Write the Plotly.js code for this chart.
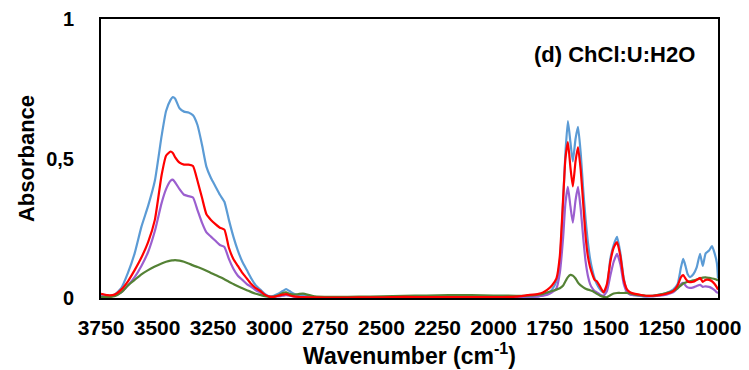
<!DOCTYPE html>
<html>
<head>
<meta charset="utf-8">
<script src="https://cdn.plot.ly/plotly-3.0.1.min.js"></script>
<style>html,body{margin:0;padding:0;background:#fff;}#chart{width:749px;height:370px;}</style>
</head>
<body>
<div id="chart"></div>
<script>
const wavenumber = [3750,3720,3690,3660,3630,3600,3570,3540,3510,3480,3460,3440,3430,3420,3400,3380,3360,3340,3320,3300,3280,3260,3240,3220,3200,3180,3160,3140,3120,3100,3080,3060,3040,3020,3000,2980,2960,2940,2925,2910,2890,2870,2850,2800,2700,2600,2500,2400,2300,2200,2100,2000,1900,1850,1800,1780,1760,1740,1720,1705,1690,1680,1669,1658,1647,1635,1624,1612,1600,1590,1580,1570,1560,1550,1540,1525,1510,1495,1480,1465,1450,1435,1420,1405,1390,1370,1350,1320,1290,1260,1230,1200,1180,1165,1155,1145,1135,1125,1110,1095,1080,1068,1055,1040,1027,1015,1005,1000];

const blueSeries = [0.01,0.008,0.012,0.035,0.09,0.16,0.255,0.33,0.42,0.58,0.67,0.71,0.72,0.715,0.68,0.668,0.665,0.655,0.62,0.55,0.47,0.43,0.40,0.37,0.345,0.28,0.22,0.17,0.13,0.10,0.07,0.045,0.03,0.015,0.005,0.008,0.015,0.025,0.032,0.025,0.015,0.01,0.01,0.004,0.002,0.002,0.002,0.003,0.003,0.004,0.004,0.003,0.002,0.003,0.006,0.01,0.015,0.03,0.06,0.13,0.35,0.52,0.634,0.56,0.49,0.57,0.613,0.52,0.38,0.28,0.2,0.14,0.1,0.07,0.05,0.03,0.02,0.04,0.14,0.19,0.219,0.16,0.07,0.025,0.012,0.01,0.008,0.006,0.008,0.012,0.018,0.03,0.05,0.11,0.14,0.115,0.085,0.075,0.085,0.11,0.158,0.115,0.16,0.17,0.186,0.16,0.125,0.07];

const redSeries = [0.015,0.01,0.012,0.03,0.06,0.1,0.145,0.2,0.28,0.44,0.51,0.525,0.52,0.505,0.485,0.478,0.478,0.473,0.42,0.36,0.3,0.28,0.265,0.252,0.245,0.18,0.14,0.115,0.09,0.07,0.05,0.035,0.025,0.012,0.005,0.004,0.008,0.012,0.014,0.01,0.006,0.004,0.003,0.002,0.001,0.002,0.002,0.004,0.003,0.003,0.003,0.003,0.005,0.01,0.015,0.02,0.03,0.045,0.07,0.15,0.36,0.5,0.559,0.47,0.4,0.49,0.541,0.46,0.33,0.22,0.15,0.11,0.085,0.065,0.06,0.04,0.02,0.05,0.13,0.18,0.2,0.15,0.065,0.03,0.02,0.015,0.012,0.008,0.008,0.01,0.015,0.025,0.045,0.075,0.082,0.07,0.06,0.057,0.058,0.065,0.072,0.058,0.065,0.065,0.06,0.05,0.038,0.03];

const purpleSeries = [0.005,0.005,0.008,0.02,0.045,0.075,0.115,0.165,0.24,0.34,0.39,0.42,0.424,0.415,0.39,0.37,0.365,0.36,0.315,0.27,0.235,0.22,0.205,0.19,0.183,0.14,0.105,0.08,0.065,0.05,0.04,0.028,0.02,0.012,0.006,0.004,0.006,0.008,0.01,0.008,0.005,0.004,0.003,0.002,0.002,0.002,0.003,0.004,0.005,0.005,0.005,0.004,0.004,0.005,0.006,0.008,0.012,0.02,0.035,0.09,0.22,0.34,0.398,0.33,0.27,0.35,0.398,0.32,0.21,0.13,0.08,0.05,0.035,0.025,0.02,0.012,0.008,0.025,0.08,0.13,0.158,0.12,0.05,0.02,0.012,0.01,0.008,0.006,0.006,0.008,0.012,0.02,0.035,0.05,0.054,0.045,0.038,0.036,0.038,0.043,0.047,0.04,0.042,0.04,0.035,0.028,0.02,0.018];

const greenSeries = [0.003,0.003,0.006,0.02,0.045,0.065,0.085,0.1,0.113,0.124,0.13,0.134,0.135,0.136,0.134,0.13,0.124,0.117,0.111,0.105,0.098,0.09,0.082,0.075,0.067,0.058,0.05,0.042,0.035,0.028,0.021,0.015,0.011,0.007,0.004,0.005,0.01,0.018,0.02,0.015,0.012,0.014,0.016,0.006,0.004,0.005,0.006,0.008,0.009,0.01,0.01,0.009,0.008,0.008,0.012,0.015,0.02,0.025,0.03,0.035,0.045,0.06,0.075,0.083,0.08,0.07,0.055,0.045,0.038,0.033,0.03,0.028,0.025,0.02,0.015,0.008,0.004,0.003,0.01,0.016,0.018,0.018,0.018,0.018,0.016,0.012,0.01,0.008,0.008,0.012,0.018,0.025,0.035,0.045,0.052,0.055,0.058,0.06,0.063,0.066,0.07,0.073,0.074,0.072,0.07,0.068,0.065,0.063];

const xTickVals = [3750,3500,3250,3000,2750,2500,2250,2000,1750,1500,1250,1000];
const yTickVals = [0,0.5,1];
const yTickText = ['0','0,5','1'];

const FONT = '"Liberation Sans", Arial, sans-serif';

function tr(y, color) {
  return {x: wavenumber, y: y, type: 'scatter', mode: 'lines',
    line: {color: color, width: 2.2, shape: 'spline', smoothing: 0.5}, hoverinfo: 'skip'};
}

const data = [
  tr(blueSeries, '#5B9BD5'),
  tr(purpleSeries, '#9B5FCF'),
  tr(greenSeries, '#548235'),
  tr(redSeries, '#FF0000')
];

const layout = {
  width: 749, height: 370,
  margin: {l: 101, r: 31, t: 19, b: 72, pad: 0},
  paper_bgcolor: '#fff', plot_bgcolor: '#fff',
  showlegend: false,
  font: {family: FONT, color: '#000', size: 20, weight: 'bold'},
  xaxis: {
    range: [3750, 1000], autorange: false,
    tickvals: xTickVals, ticks: '', showgrid: false, zeroline: false,
    showline: true, linecolor: '#000', linewidth: 2, mirror: true,
    tickfont: {family: FONT, size: 21, color: '#000', weight: 'bold'},
    ticklabelstandoff: 10,
    title: {text: 'Wavenumber (cm<sup>-1</sup>)', font: {family: FONT, size: 23, color: '#000', weight: 'bold'}, standoff: 4}
  },
  yaxis: {
    range: [0, 1], autorange: false,
    tickvals: yTickVals, ticktext: yTickText, ticks: '', showgrid: false, zeroline: false,
    showline: true, linecolor: '#000', linewidth: 2, mirror: true,
    tickfont: {family: FONT, size: 20, color: '#000', weight: 'bold'},
    ticklabelstandoff: 21,
    title: {text: 'Absorbance', font: {family: FONT, size: 22, color: '#000', weight: 'bold'}, standoff: 5}
  },
  annotations: [{
    xref: 'paper', yref: 'paper', x: 0.966, y: 0.872, xanchor: 'right', yanchor: 'middle',
    text: '(d) ChCl:U:H2O', showarrow: false,
    font: {family: FONT, size: 22, color: '#000', weight: 'bold'}
  }]
};

Plotly.newPlot('chart', data, layout, {staticPlot: true, displayModeBar: false});
</script>
</body>
</html>
